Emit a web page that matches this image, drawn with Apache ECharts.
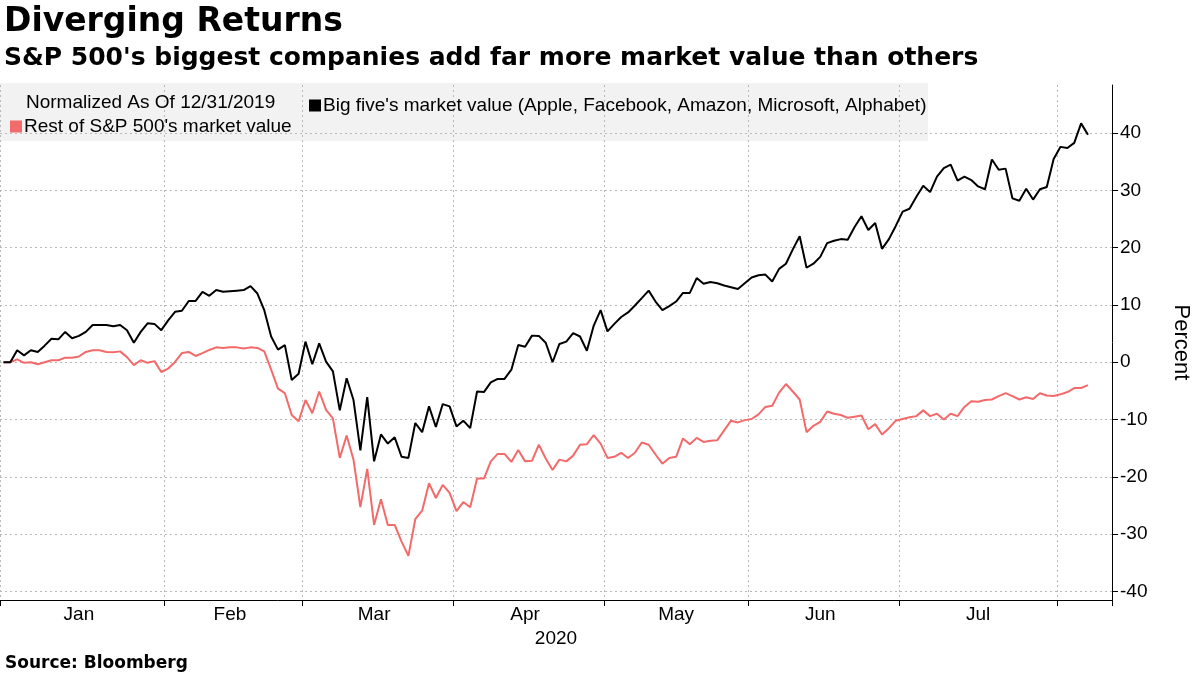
<!DOCTYPE html>
<html>
<head>
<meta charset="utf-8">
<title>Diverging Returns</title>
<script src="https://cdn.jsdelivr.net/npm/echarts@6/dist/echarts.min.js"></script>
<style>
  html, body { margin: 0; padding: 0; background: #fff; }
  #chart { width: 1200px; height: 675px; }
</style>
</head>
<body>
<div id="chart"></div>
<script>
// Weekday axis (Bloomberg style, holidays carried forward), Dec 31 2019 -> Aug 12 2020
const startDate = '2019-12-31';
const endDate = '2020-08-12';
const monthNames = ['Jan', 'Feb', 'Mar', 'Apr', 'May', 'Jun', 'Jul', 'Aug', 'Sep', 'Oct', 'Nov', 'Dec'];
const yearLabel = '2020';

const bigFiveName = "Big five's market value (Apple, Facebook, Amazon, Microsoft, Alphabet)";
const restName = "Rest of S&P 500's market value";

// Percent change since 12/31/2019, one value per weekday from Dec 31
const bigFive = [
  0, 0, 2.1, 1.2, 2.1, 1.8, 2.9, 4.1, 4.0, 5.3,
  4.2, 4.6, 5.3, 6.5, 6.5, 6.5, 6.3, 6.5, 5.6, 3.4,
  5.3, 6.8, 6.7, 5.6, 7.3, 8.8, 9.0, 10.7, 10.7, 12.3,
  11.6, 12.6, 12.3, 12.4, 12.5, 12.6, 13.3, 12.0, 9.1, 4.5,
  2.2, 3.0, -3.1, -2.0, 3.6, -0.35, 3.3, 0.1, -1.6, -8.4,
  -2.8, -6.6, -15.4, -6.1, -17.3, -12.6, -14.2, -13.1, -16.5, -16.7,
  -10.6, -12.2, -7.7, -11.3, -7.3, -7.7, -11.2, -10.2, -11.5, -5.1,
  -5.2, -3.5, -2.9, -2.9, -1.3, 3.0, 2.7, 4.65, 4.6, 3.4,
  0, 3.2, 3.6, 5.1, 4.5, 2.0, 6.4, 9.1, 5.4, 6.7,
  7.9, 8.7, 9.9, 11.2, 12.5, 10.6, 9.1, 9.8, 10.6, 12.1,
  12.1, 14.7, 13.7, 14.0, 13.8, 13.4, 13.1, 12.8, 13.8, 14.8,
  15.2, 15.3, 14.1, 16.3, 17.2, 19.7, 22.0, 16.5, 17.2, 18.4,
  20.8, 21.2, 21.5, 21.4, 23.6, 25.5, 23.1, 24.3, 19.8, 21.5,
  23.8, 26.3, 26.8, 28.9, 30.8, 29.7, 32.4, 33.9, 34.5, 31.7,
  32.4, 31.8, 30.7, 30.2, 35.4, 33.6, 33.8, 28.6, 28.2, 30.3,
  28.4, 30.2, 30.6, 35.5, 37.6, 37.4, 38.3, 41.7, 39.7
];
const restOfSP = [
  0, 0, 0.5, -0.1, 0, -0.35, 0, 0.35, 0.35, 0.8,
  0.8, 1.0, 1.8, 2.1, 2.1, 1.8, 1.75, 1.9, 0.9, -0.5,
  0.35, -0.1, 0.2, -1.7, -1.1, 0.05, 1.6, 1.8, 1.1, 1.6,
  2.15, 2.6, 2.5, 2.6, 2.6, 2.4, 2.6, 2.5, 1.9, -1.3,
  -4.6, -5.4, -9.2, -10.3, -6.6, -8.9, -5.1, -8.3, -9.8, -16.7,
  -12.8, -17.0, -25.3, -18.6, -28.4, -23.9, -28.4, -28.4, -31.3, -33.8,
  -27.4, -25.9, -21.1, -23.7, -21.4, -22.8, -26.0, -24.4, -25.3, -20.3,
  -20.3, -17.3, -16.0, -16.0, -17.4, -15.3, -17.3, -17.2, -14.4, -16.8,
  -18.8, -17.0, -17.3, -16.3, -14.4, -14.3, -12.7, -14.2, -16.7, -16.5,
  -15.8, -16.7, -15.8, -14.0, -14.4, -16.1, -17.7, -16.7, -16.5, -13.3,
  -14.3, -13.2, -13.9, -13.7, -13.6, -11.9, -10.2, -10.5, -10.1, -9.9,
  -9.1, -7.8, -7.6, -5.3, -3.8, -5.1, -6.5, -12.2, -11.1, -10.4,
  -8.6, -9.0, -9.2, -9.7, -9.5, -9.3, -11.7, -10.8, -12.6, -11.5,
  -10.2, -9.9, -9.6, -9.4, -8.4, -9.4, -9.0, -10.0, -9.0, -9.4,
  -7.8, -6.8, -6.9, -6.6, -6.5, -5.9, -5.4, -5.9, -6.5, -6.1,
  -6.4, -5.4, -5.8, -5.9, -5.6, -5.2, -4.5, -4.5, -4.0
];

const yMin = -41.5;
const yMax = 48.4;

const labelFont = 'Liberation Sans';
const headFont = 'DejaVu Sans';

// Build the list of weekdays for the category axis
function buildWeekdays(from, to) {
  const out = [];
  const d = new Date(from + 'T00:00:00Z');
  const end = new Date(to + 'T00:00:00Z');
  while (d <= end) {
    const wd = d.getUTCDay();
    if (wd !== 0 && wd !== 6) out.push(d.toISOString().slice(0, 10));
    d.setUTCDate(d.getUTCDate() + 1);
  }
  return out;
}

const days = buildWeekdays(startDate, endDate);

// Month boundaries: first weekday of each month (the first one pinned to the axis start)
const monthStarts = [0];
for (let i = 2; i < days.length; i++) {
  if (days[i].slice(5, 7) !== days[i - 1].slice(5, 7)) monthStarts.push(i);
}
const tickSet = new Set(monthStarts);

// Month labels sit in the middle of each month
const labelSet = new Set();
for (let k = 0; k < monthStarts.length - 1; k++) {
  labelSet.add(Math.floor((monthStarts[k] + monthStarts[k + 1] - 1) / 2));
}

const chart = echarts.init(document.getElementById('chart'));

const gridLine = { color: '#b9b9b9', width: 1, type: [2, 3] };

chart.setOption({
  animation: false,
  backgroundColor: '#fff',
  title: [
    {
      text: 'Diverging Returns', left: 4, top: 6, padding: 0,
      textStyle: { fontFamily: headFont, fontWeight: 'bold', fontSize: 33, color: '#000' }
    },
    {
      text: "S&P 500's biggest companies add far more market value than others", left: 4, top: 46, padding: 0,
      textStyle: { fontFamily: headFont, fontWeight: 'bold', fontSize: 25, color: '#000' }
    },
    {
      text: 'Normalized As Of 12/31/2019', left: 26, top: 93, padding: 0,
      textStyle: { fontFamily: labelFont, fontWeight: 'normal', fontSize: 19, color: '#000' }
    },
    {
      text: 'Source: Bloomberg', left: 5, top: 655, padding: 0,
      textStyle: { fontFamily: headFont, fontWeight: 'bold', fontSize: 17, color: '#000' }
    }
  ],
  graphic: [
    {
      type: 'rect', z: -10,
      shape: { x: 0, y: 83, width: 928, height: 58 },
      style: { fill: '#f2f2f2' }
    }
  ],
  legend: [
    {
      data: [bigFiveName], left: 309, top: 96, padding: 0,
      icon: 'rect', itemWidth: 12, itemHeight: 12, itemGap: 10,
      textStyle: { fontFamily: labelFont, fontSize: 19, color: '#000', padding: [0, 0, 0, -3] }
    },
    {
      data: [restName], left: 10, top: 117, padding: 0,
      icon: 'rect', itemWidth: 12, itemHeight: 12, itemGap: 10,
      textStyle: { fontFamily: labelFont, fontSize: 19, color: '#000', padding: [0, 0, 0, -3] }
    }
  ],
  grid: { left: 0, right: 80, top: 85, bottom: 75, containLabel: false },
  xAxis: {
    type: 'category',
    data: days,
    boundaryGap: true,
    axisLine: { show: true, onZero: false, lineStyle: { color: '#000', width: 1 } },
    axisTick: {
      show: true, length: 6, interval: (i) => tickSet.has(i),
      lineStyle: { color: '#000' }
    },
    axisLabel: {
      interval: (i) => labelSet.has(i),
      formatter: (v) => monthNames[parseInt(v.slice(5, 7), 10) - 1],
      fontFamily: labelFont, fontSize: 19, color: '#000', margin: 5
    },
    splitLine: { show: true, interval: (i) => tickSet.has(i), lineStyle: gridLine },
    name: yearLabel,
    nameLocation: 'middle',
    nameGap: 27,
    nameTextStyle: { fontFamily: labelFont, fontSize: 19, color: '#000' }
  },
  yAxis: {
    type: 'value',
    position: 'right',
    min: yMin,
    max: yMax,
    splitNumber: 9,
    minInterval: 10,
    maxInterval: 10,
    axisLine: { show: true, lineStyle: { color: '#000', width: 1 } },
    axisTick: { show: true, length: 6, lineStyle: { color: '#000' } },
    axisLabel: {
      showMinLabel: false, showMaxLabel: false,
      fontFamily: labelFont, fontSize: 19, color: '#000', margin: 8
    },
    splitLine: { show: true, showMinLine: false, showMaxLine: false, lineStyle: gridLine },
    name: 'Percent',
    nameLocation: 'middle',
    nameRotate: -90,
    nameGap: 58,
    nameTextStyle: { fontFamily: labelFont, fontSize: 22, color: '#000' }
  },
  series: [
    {
      name: bigFiveName,
      type: 'line',
      data: bigFive,
      symbol: 'none',
      lineStyle: { color: '#000', width: 2 },
      itemStyle: { color: '#000' },
      z: 3
    },
    {
      name: restName,
      type: 'line',
      data: restOfSP,
      symbol: 'none',
      lineStyle: { color: '#f36a6a', width: 2 },
      itemStyle: { color: '#f36a6a' },
      z: 2
    }
  ]
});
</script>
</body>
</html>
